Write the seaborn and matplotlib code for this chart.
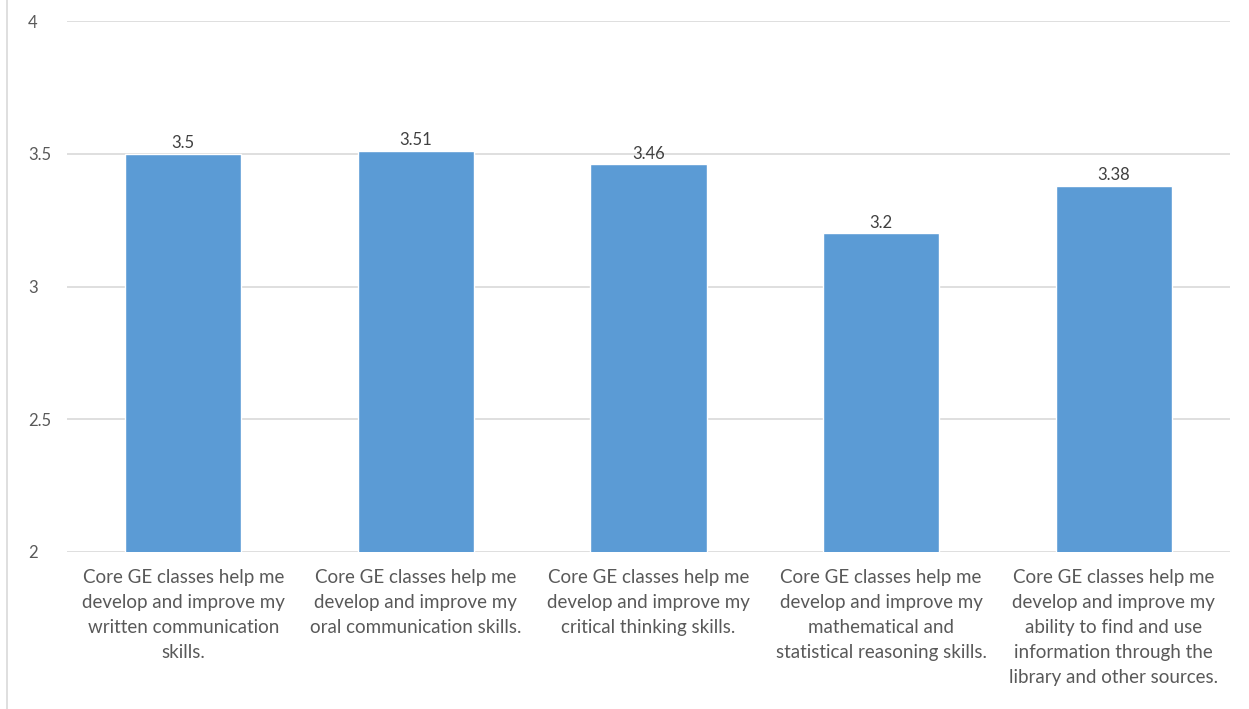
import matplotlib
matplotlib.use("Agg")
import matplotlib.pyplot as plt
import seaborn as sns
import pandas as pd
from matplotlib.lines import Line2D

categories = [
    "Core GE classes help me\ndevelop and improve my\nwritten communication\nskills.",
    "Core GE classes help me\ndevelop and improve my\noral communication skills.",
    "Core GE classes help me\ndevelop and improve my\ncritical thinking skills.",
    "Core GE classes help me\ndevelop and improve my\nmathematical and\nstatistical reasoning skills.",
    "Core GE classes help me\ndevelop and improve my\nability to find and use\ninformation through the\nlibrary and other sources.",
]
values = [3.5, 3.51, 3.46, 3.2, 3.38]
value_labels = ["3.5", "3.51", "3.46", "3.2", "3.38"]
yticks = [2, 2.5, 3, 3.5, 4]
ytick_labels = ["2", "2.5", "3", "3.5", "4"]

sns.set_theme(style="white")
plt.rcParams['font.family'] = ['Lato', 'DejaVu Sans']

df = pd.DataFrame({"cat": categories, "val": values})

fig = plt.figure(figsize=(12.49, 7.09), dpi=100)
ax = fig.add_axes([67/1249, 1 - 552/709, (1230-67)/1249, (552-21)/709])

sns.barplot(data=df, x="cat", y="val", color="#5B9BD5", width=0.5, ax=ax,
            saturation=1, zorder=3)

ax.set_ylim(2, 4)
ax.set_xlim(-0.5, len(categories) - 0.5)
ax.set_yticks(yticks)
ax.set_yticklabels(ytick_labels, ha="left")
ax.yaxis.grid(True, color="#D9D9D9", linewidth=1.2, zorder=0)
ax.set_axisbelow(True)
for s in ax.spines.values():
    s.set_visible(False)
ax.set_xlabel("")
ax.set_ylabel("")
ax.tick_params(axis="both", length=0, colors="#595959", labelsize=12)
ax.tick_params(axis="y", pad=28)
ax.tick_params(axis="x", pad=12, labelsize=13.5)
for lbl in ax.get_xticklabels():
    lbl.set_linespacing(1.57)
    lbl.set_va("top")

for i, (v, t) in enumerate(zip(values, value_labels)):
    ax.annotate(t, (i, v), xytext=(0, 2), textcoords="offset points",
                ha="center", va="bottom", fontsize=12, color="#404040")

fig.add_artist(Line2D([7/1249, 7/1249], [0, 1], transform=fig.transFigure,
                      color="#D9D9D9", linewidth=1.2))

fig.savefig("out.png", dpi=100, facecolor="white")
